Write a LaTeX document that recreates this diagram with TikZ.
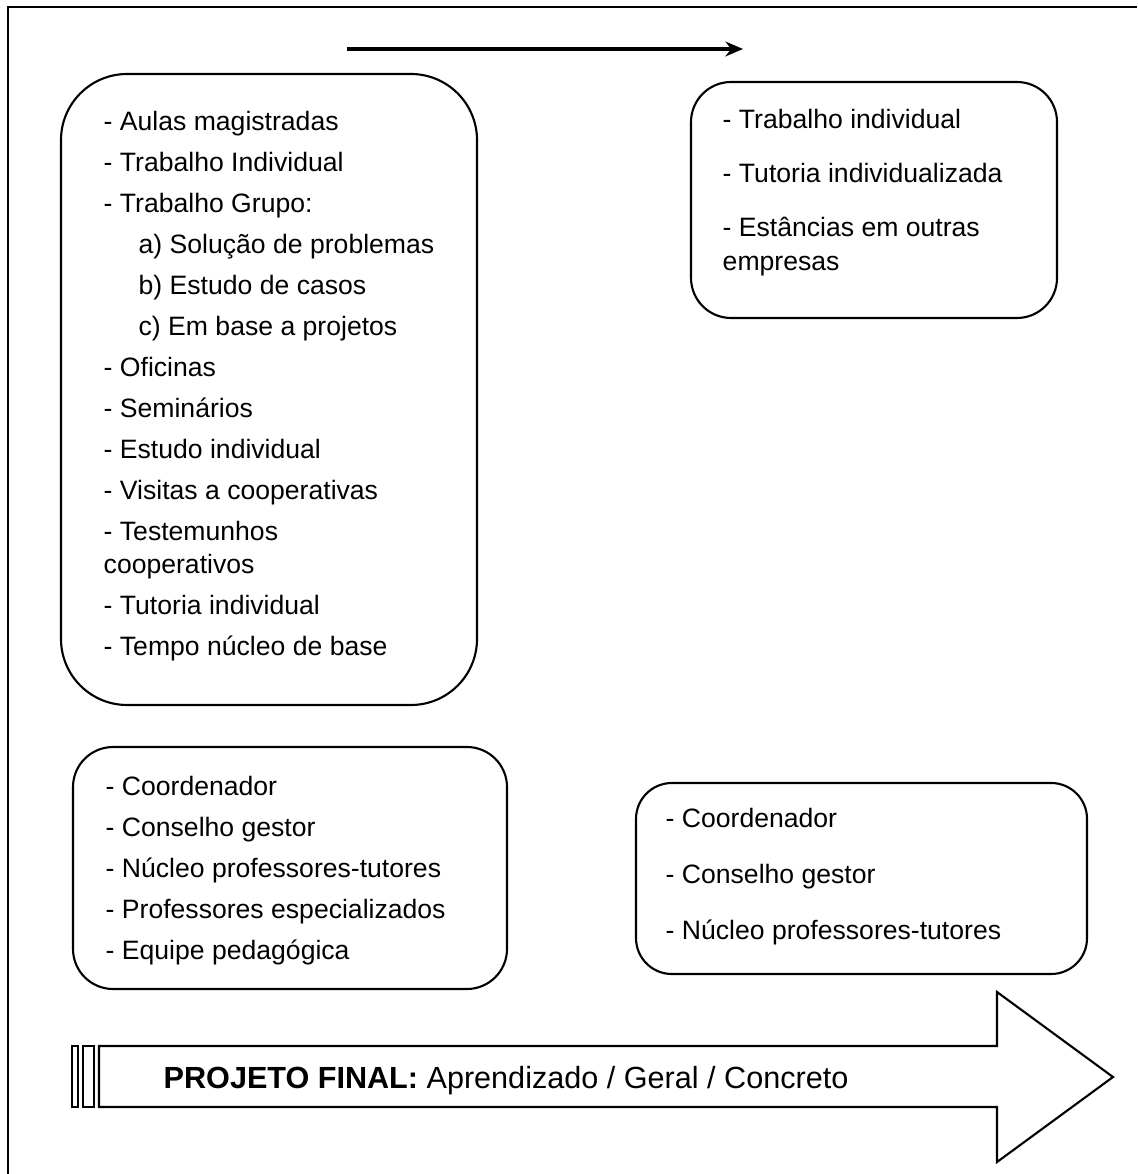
\documentclass[tikz,border=0pt]{standalone}
\usepackage{fontspec}
\setmainfont{Liberation Sans}
\usetikzlibrary{arrows.meta,fit}
\begin{document}
\begin{tikzpicture}[x=0.01cm,y=-0.01cm,
  frame/.style={line width=0.6pt},
  box/.style={draw,line width=0.6pt,inner sep=0pt},
  txt/.style={anchor=base west,inner sep=0pt,font=\fontsize{7.56pt}{9.4pt}\selectfont},
  bigtxt/.style={anchor=base west,inner sep=0pt,font=\fontsize{8.7pt}{10pt}\selectfont}]
\useasboundingbox (0,0) rectangle (1137,1174);

% page frame (left and top sides)
\draw[frame] (8,1174) -- (8,7) -- (1137,7);

% direction arrow at the top
\coordinate (ta) at (347,49);
\coordinate (tb) at (743,49);
\draw[line width=1.1pt,-{Stealth[length=5pt,width=4.2pt]}] (ta) -- (tb);

% boxes
\node[box,rounded corners=18.8pt,fit={(61,74) (477,705)}] (b1) {};
\node[box,rounded corners=11.4pt,fit={(691,82) (1057,318)}] (b2) {};
\node[box,rounded corners=11.4pt,fit={(73,747) (507,989)}] (b3) {};
\node[box,rounded corners=10.2pt,fit={(636,783) (1087,974)}] (b4) {};

% left activities
\node[txt] (l1) at (103,131) {- Aulas magistradas};
\node[txt] (l2) at (103,172) {- Trabalho Individual};
\node[txt] (l3) at (103,213) {- Trabalho Grupo:};
\node[txt] (l4) at (138,254) {a) Solução de problemas};
\node[txt] (l5) at (138,295) {b) Estudo de casos};
\node[txt] (l6) at (138,336) {c) Em base a projetos};
\node[txt] (l7) at (103,377) {- Oficinas};
\node[txt] (l8) at (103,418) {- Seminários};
\node[txt] (l9) at (103,459) {- Estudo individual};
\node[txt] (l10) at (103,500) {- Visitas a cooperativas};
\node[txt] (l11) at (103,541) {- Testemunhos};
\node[txt] (l12) at (103,574) {cooperativos};
\node[txt] (l13) at (103,615) {- Tutoria individual};
\node[txt] (l14) at (103,656) {- Tempo núcleo de base};

% right activities
\node[txt] (r1) at (722,129) {- Trabalho individual};
\node[txt] (r2) at (722,183) {- Tutoria individualizada};
\node[txt] (r3) at (722,237) {- Estâncias em outras};
\node[txt] (r4) at (722,271) {empresas};

% left staff
\node[txt] (s1) at (105,795) {- Coordenador};
\node[txt] (s2) at (105,836) {- Conselho gestor};
\node[txt] (s3) at (105,877) {- Núcleo professores-tutores};
\node[txt] (s4) at (105,918) {- Professores especializados};
\node[txt] (s5) at (105,959) {- Equipe pedagógica};

% right staff
\node[txt] (t1) at (665,827) {- Coordenador};
\node[txt] (t2) at (665,883) {- Conselho gestor};
\node[txt] (t3) at (665,939) {- Núcleo professores-tutores};

% striped block arrow
\draw[line width=0.6pt] (72,1046) rectangle (78,1107);
\draw[line width=0.6pt] (83,1046) rectangle (94,1107);
\draw[line width=0.6pt,line join=miter] (99,1046) -- (997,1046) -- (997,992) -- (1113,1077)
  -- (997,1162) -- (997,1107) -- (99,1107) -- cycle;
\node[bigtxt] (pf) at (163,1088) {\textbf{PROJETO FINAL:} Aprendizado / Geral / Concreto};
\end{tikzpicture}
\end{document}
